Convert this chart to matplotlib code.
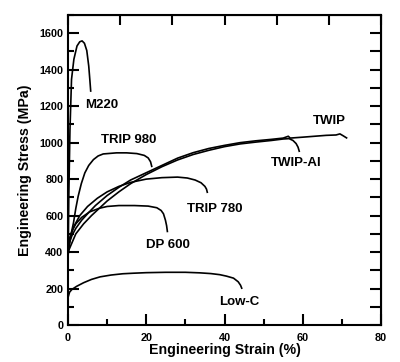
import matplotlib.pyplot as plt
import numpy as np

plt.rcParams['font.family'] = ['Liberation Sans', 'DejaVu Sans']
plt.rcParams['font.weight'] = 'bold'

# strain (%) / stress (MPa)
m220_x = [0, 0.2, 0.5, 0.9, 1.5, 2.3, 3.0, 3.6, 4.2, 4.8, 5.3, 5.6, 5.8]
m220_y = [300, 700, 1070, 1347, 1457, 1530, 1553, 1558, 1545, 1505, 1420, 1340, 1283]

trip980_x = [0, 0.5, 1, 1.4, 2, 2.6, 3.4, 4.3, 5.3, 6.5, 7.7, 9, 12.4, 15, 17.6, 19.5, 20.5, 21.1, 21.4]
trip980_y = [380, 460, 520, 560, 640, 706, 775, 834, 875, 907, 927, 938, 944, 944, 940, 930, 916, 895, 870]

twip_x = [0, 0.5, 1, 2, 3.5, 5, 7, 10, 13, 16, 20, 24, 28, 32, 36, 40, 44, 48, 52, 55,
          56.3, 56.8, 60, 63, 66, 68.5, 69.5, 70.3, 71.2]
twip_y = [420, 460, 490, 530, 575, 610, 655, 710, 755, 795, 835, 875, 915, 945, 968, 985, 1000, 1010, 1018, 1025,
          1035, 1025, 1030, 1035, 1040, 1042, 1048, 1038, 1026]

twipal_x = [0, 1, 2, 4, 6, 8, 10, 13, 16, 20, 24, 28, 32, 36, 40, 44, 48, 52, 55, 56.5, 57.5, 58.3, 58.8, 59.1]
twipal_y = [400, 450, 500, 555, 600, 640, 680, 730, 775, 825, 868, 905, 935, 958, 978, 993, 1003, 1012, 1020,
            1022, 1012, 995, 975, 953]

trip780_x = [0, 0.5, 1.5, 3, 5, 7.5, 10, 13, 16, 20, 24, 28, 30.5, 32.5, 34, 35, 35.4, 35.6]
trip780_y = [430, 480, 540, 600, 650, 695, 730, 760, 782, 800, 808, 811, 806, 795, 780, 760, 745, 728]

dp600_x = [0, 0.4, 1, 2, 3.5, 5.5, 8, 10, 13, 17, 20.5, 22.7, 23.8, 24.4, 24.9, 25.2, 25.4]
dp600_y = [420, 470, 515, 555, 590, 620, 640, 650, 655, 655, 652, 643, 628, 610, 575, 545, 513]

lowc_x = [0, 0.4, 1, 2.2, 4, 6, 8.2, 11, 14, 16.7, 20, 25, 30, 33.7, 36.5, 38.8, 40.5, 42.3, 43.5, 44.1, 44.4]
lowc_y = [150, 180, 195, 212, 232, 250, 264, 274, 281, 284, 287, 289, 289, 286, 282, 276, 268, 257, 237, 218, 202]

curves = [(m220_x, m220_y), (trip980_x, trip980_y), (twip_x, twip_y), (twipal_x, twipal_y),
          (trip780_x, trip780_y), (dp600_x, dp600_y), (lowc_x, lowc_y)]

label_text = ['M220', 'TRIP 980', 'TWIP', 'TWIP-Al', 'TRIP 780', 'DP 600', 'Low-C']
label_x = [4.3, 15.5, 66.7, 58.4, 37.6, 25.6, 43.8]
label_y = [1204, 1017, 1116, 891, 638, 440, 126]
label_ha = ['left', 'center', 'center', 'center', 'center', 'center', 'center']

fig = plt.figure(figsize=(4, 3.62), dpi=100)
ax = fig.add_axes([0.17, 0.1022, 0.7825, 0.8564])

for cx, cy in curves:
    ax.plot(cx, cy, color='black', lw=1.2)

for t, x, y, ha in zip(label_text, label_x, label_y, label_ha):
    ax.text(x, y, t, ha=ha, va='center', fontsize=9.5, fontweight='bold')

ax.set_xlim(0, 80)
ax.set_ylim(0, 1700)
ax.set_xticks(np.arange(0, 81, 20))
ax.set_xticks(np.arange(0, 81, 10), minor=True)
ax.set_yticks(np.arange(0, 1601, 200))
ax.set_yticks(np.arange(0, 1701, 100), minor=True)

for s in ax.spines.values():
    s.set_linewidth(1.5)

ax.tick_params(which='major', direction='in', length=8, width=1.5, labelsize=7.8)
ax.tick_params(which='minor', direction='in', length=4, width=1.5)
ax.tick_params(axis='x', which='major', pad=5.5)
ax.tick_params(axis='y', which='major', pad=3.4)

top = ax.secondary_xaxis('top')
top.set_xticks(np.arange(0, 81, 80 / 6))
top.tick_params(direction='in', length=7.5, width=1.5, labeltop=False)
right = ax.secondary_yaxis('right')
right.set_yticks(np.arange(0, 1701, 100))
right.tick_params(direction='in', length=8, width=1.5, labelright=False)

ax.set_xlabel('Engineering Strain (%)', fontsize=10.2, fontweight='bold', labelpad=0)
ax.set_ylabel('Engineering Stress (MPa)', fontsize=10.2, fontweight='bold', labelpad=5)

fig.savefig('out.png', dpi=100)
